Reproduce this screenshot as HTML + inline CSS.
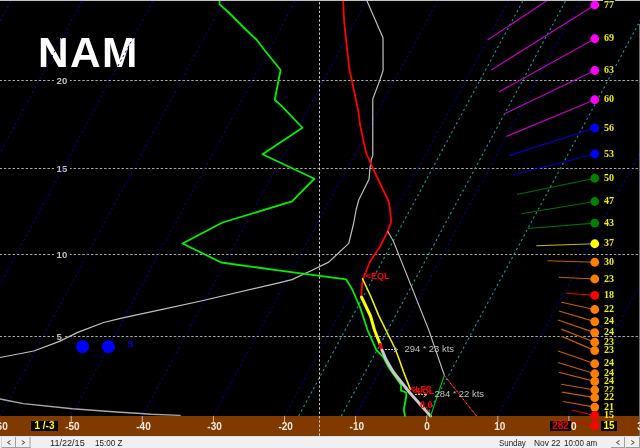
<!DOCTYPE html>
<html><head><meta charset="utf-8"><style>
html,body{margin:0;padding:0;background:#000;}
#root{position:relative;will-change:transform;width:640px;height:448px;overflow:hidden;background:#000;font-family:"Liberation Sans",sans-serif;}
svg{position:absolute;left:0;top:0;}
.t{position:absolute;white-space:nowrap;line-height:1;}
.wl{position:absolute;left:603px;padding:0 1px;background:#000;height:9px;line-height:10px;font:bold 10px/10px "Liberation Serif",serif;color:#f0f000;white-space:nowrap;}
.ax{position:absolute;top:421.5px;font:bold 10px/10px "Liberation Sans",sans-serif;color:#f4ece4;white-space:nowrap;}
.kts{font:9.5px/9.5px "Liberation Sans",sans-serif;color:#c0c0c0;}
.ast{font-size:8px;position:relative;top:-1px;}
.box{position:absolute;height:9.5px;background:#000;font:bold 10px/10px "Liberation Sans",sans-serif;text-align:center;white-space:nowrap;}
.sb{position:absolute;top:438.2px;font:9.5px/10px "Liberation Sans",sans-serif;color:#1a1a1a;white-space:pre;transform-origin:0 0;}
</style></head><body><div id="root">
<svg width="640" height="448" viewBox="0 0 640 448">
<rect x="0" y="0" width="640" height="416" fill="#000"/>
<rect x="0" y="416" width="640" height="20" fill="#803a00"/>
<line x1="0" y1="80.5" x2="640" y2="80.5" stroke="#a8a8a8" stroke-width="1" stroke-dasharray="2.5 1.857" stroke-dashoffset="0.5"/>
<line x1="0" y1="168.5" x2="640" y2="168.5" stroke="#a8a8a8" stroke-width="1" stroke-dasharray="2.5 1.857" stroke-dashoffset="0.5"/>
<line x1="0" y1="254.5" x2="640" y2="254.5" stroke="#a8a8a8" stroke-width="1" stroke-dasharray="2.5 1.857" stroke-dashoffset="0.5"/>
<line x1="0" y1="336.5" x2="640" y2="336.5" stroke="#a8a8a8" stroke-width="1" stroke-dasharray="2.5 1.857" stroke-dashoffset="0.5"/>
<rect x="54" y="75.5" width="16" height="10" fill="#000"/>
<text x="56.6" y="84.1" font-family="Liberation Sans" font-weight="bold" font-size="9.6" fill="#c0c0c0">20</text>
<rect x="54" y="163.5" width="16" height="10" fill="#000"/>
<text x="56.6" y="172.1" font-family="Liberation Sans" font-weight="bold" font-size="9.6" fill="#c0c0c0">15</text>
<rect x="54" y="249.5" width="16" height="10" fill="#000"/>
<text x="56.6" y="258.1" font-family="Liberation Sans" font-weight="bold" font-size="9.6" fill="#c0c0c0">10</text>
<rect x="54" y="331.5" width="9" height="10" fill="#000"/>
<text x="56.6" y="340.1" font-family="Liberation Sans" font-weight="bold" font-size="9.6" fill="#c0c0c0">5</text>
<text x="37.9" y="66.5" font-family="Liberation Sans" font-weight="bold" font-size="42.4" letter-spacing="1.4" fill="#fff">NAM</text>
<line x1="-213.20" y1="416" x2="11.44" y2="0" stroke="#0000b8" stroke-width="1" stroke-dasharray="2.2 2.9"/>
<line x1="-142.10" y1="416" x2="82.54" y2="0" stroke="#0000b8" stroke-width="1" stroke-dasharray="2.2 2.9"/>
<line x1="-71.00" y1="416" x2="153.64" y2="0" stroke="#0000b8" stroke-width="1" stroke-dasharray="2.2 2.9"/>
<line x1="0.10" y1="416" x2="224.74" y2="0" stroke="#0000b8" stroke-width="1" stroke-dasharray="2.2 2.9"/>
<line x1="71.20" y1="416" x2="295.84" y2="0" stroke="#0000b8" stroke-width="1" stroke-dasharray="2.2 2.9"/>
<line x1="142.30" y1="416" x2="366.94" y2="0" stroke="#0000b8" stroke-width="1" stroke-dasharray="2.2 2.9"/>
<line x1="213.40" y1="416" x2="438.04" y2="0" stroke="#0000b8" stroke-width="1" stroke-dasharray="2.2 2.9"/>
<line x1="284.50" y1="416" x2="509.14" y2="0" stroke="#0000b8" stroke-width="1" stroke-dasharray="2.2 2.9"/>
<line x1="355.60" y1="416" x2="580.24" y2="0" stroke="#0000b8" stroke-width="1" stroke-dasharray="2.2 2.9"/>
<line x1="497.80" y1="416" x2="722.44" y2="0" stroke="#0000b8" stroke-width="1" stroke-dasharray="2.2 2.9"/>
<line x1="568.90" y1="416" x2="793.54" y2="0" stroke="#0000b8" stroke-width="1" stroke-dasharray="2.2 2.9"/>
<line x1="298.72" y1="416" x2="523.36" y2="0" stroke="#00a8a8" stroke-width="1.1" stroke-dasharray="2.2 2.9"/>
<line x1="341.38" y1="416" x2="566.02" y2="0" stroke="#00a8a8" stroke-width="1.1" stroke-dasharray="2.2 2.9"/>
<line x1="426.70" y1="416" x2="651.34" y2="0" stroke="#00a8a8" stroke-width="1.1" stroke-dasharray="2.2 2.9"/>
<line x1="319.5" y1="1" x2="319.5" y2="436" stroke="#c8c8c8" stroke-width="1" stroke-dasharray="2.4 1.957" stroke-dashoffset="3.36"/>
<polyline points="366.6,0 373.75,16.4 383,37.75 383.1,70.4 380,79.75 372.75,99.1 372.75,155.75 371.25,159.5 370,168 369,179.25 358.75,199.9 356.25,209.25 353.5,224 348.75,243.4 328.75,262.1 310,271.25 291.9,279.6 280,282.6 200,301.25 160,309.8 121.7,318.1 103.6,322.5 77.7,332.4 59.5,341.4 33.7,351 0,357.5" fill="none" stroke="#c0c0c0" stroke-width="1.2" stroke-linejoin="round" stroke-linecap="round" />
<polyline points="0,399 23.3,403.6 72.5,408.7 120,412.3 137,413.3 151,414.2 180,415.4" fill="none" stroke="#a8a8a8" stroke-width="1.4" stroke-linejoin="round" stroke-linecap="round" />
<polyline points="219.6,0 219.6,4.4 228.75,12.5 246.25,30 256.9,40 264.4,50 280.6,70 274.75,99.75 281.25,105.6 302.5,127.75 262.5,154.2 314.4,178.75 292,201.4 222.5,222.5 182.5,243.5 221.25,262.5 280,270.6 346.25,279.4 352.5,290 356.9,300 360.6,308.75 367.5,330 376.4,350.2 383.4,357.2 388.75,367.5 399.4,382.5 401,385 401,390.6 406.25,392.5 406.25,396.25 403.75,410 405,416" fill="none" stroke="#00f000" stroke-width="1.8" stroke-linejoin="round" stroke-linecap="round" />
<polyline points="343.1,0 343.7,13.1 344.2,21.9 345.3,32.8 347,48.1 349.4,69.75 351.9,80.4 358.5,112 360,124.5 363.1,139.5 366.25,153.25 372.75,168 377.5,178 388.75,201.75 390,209.25 391.25,222 387.8,230.9 380,246.5 370,261.5 363.1,278.75 361.9,286.25 361.3,296.5" fill="none" stroke="#ff0000" stroke-width="1.8" stroke-linejoin="round" stroke-linecap="round" />
<polyline points="361.5,297 370.5,316 374.5,330 380.2,344.5" fill="none" stroke="#ffff00" stroke-width="3" stroke-linejoin="round" stroke-linecap="round" />
<polyline points="380.2,344.5 382,350.2" fill="none" stroke="#ff0000" stroke-width="3" stroke-linejoin="round" stroke-linecap="round" />
<polyline points="382,350.2 386.25,360 393.3,372 410,393 430.6,416" fill="none" stroke="#c8c8c8" stroke-width="3" stroke-linejoin="round" stroke-linecap="round" />
<polyline points="362.5,278.75 370.6,296 378.75,315.6 389.8,338 395.2,348.75 399.4,360 403.6,372 409.4,386.9 410.6,389.4" fill="none" stroke="#f0f000" stroke-width="1.6" stroke-linejoin="round" stroke-linecap="round" />
<polyline points="387.8,231.4 393.4,241.25 428.75,330 442.5,370 444.4,375" fill="none" stroke="#c0c0c0" stroke-width="1.1" stroke-linejoin="round" stroke-linecap="round" />
<polyline points="444.4,375 430.6,416" fill="none" stroke="#00c000" stroke-width="1.1" stroke-linejoin="round" stroke-linecap="round" />
<polyline points="444.4,375.5 476.5,416" fill="none" stroke="#e01010" stroke-width="1" stroke-linejoin="round" stroke-linecap="round" />
<line x1="444.4" y1="375.5" x2="476.5" y2="416" stroke="#d0d0d0" stroke-width="0.8" stroke-dasharray="1 4"/>
<circle cx="82.6" cy="346.7" r="6.5" fill="#0000ff"/>
<circle cx="108.4" cy="346.7" r="6.5" fill="#0000ff"/>
<line x1="385" y1="349.5" x2="397" y2="349.5" stroke="#c0c0c0" stroke-width="1" stroke-dasharray="2 1"/>
<polyline points="394,347 397.5,349.5 394,352" fill="none" stroke="#c0c0c0" stroke-width="1"/>
<line x1="415" y1="394.5" x2="426" y2="394.5" stroke="#c0c0c0" stroke-width="1" stroke-dasharray="2 1"/>
<polyline points="423.5,392 427,394.5 423.5,397" fill="none" stroke="#c0c0c0" stroke-width="1"/>
<line x1="426.5" y1="409" x2="429" y2="411.5" stroke="#ff0000" stroke-width="1.2"/>
<line x1="71.20" y1="416" x2="71.20" y2="422" stroke="#d8b090" stroke-width="1"/>
<line x1="142.30" y1="416" x2="142.30" y2="422" stroke="#d8b090" stroke-width="1"/>
<line x1="213.40" y1="416" x2="213.40" y2="422" stroke="#d8b090" stroke-width="1"/>
<line x1="284.50" y1="416" x2="284.50" y2="422" stroke="#d8b090" stroke-width="1"/>
<line x1="355.60" y1="416" x2="355.60" y2="422" stroke="#d8b090" stroke-width="1"/>
<line x1="426.70" y1="416" x2="426.70" y2="422" stroke="#d8b090" stroke-width="1"/>
<line x1="497.80" y1="416" x2="497.80" y2="422" stroke="#d8b090" stroke-width="1"/>
<line x1="568.90" y1="416" x2="568.90" y2="422" stroke="#d8b090" stroke-width="1"/>
<line x1="640.00" y1="416" x2="640.00" y2="422" stroke="#d8b090" stroke-width="1"/>
<line x1="594.75" y1="-31" x2="487.5" y2="40" stroke="#c000c0" stroke-width="1.2"/>
<line x1="594.75" y1="5" x2="491.25" y2="70" stroke="#c000c0" stroke-width="1.2"/>
<line x1="594.75" y1="38.75" x2="498.75" y2="92" stroke="#c000c0" stroke-width="1.2"/>
<line x1="594.75" y1="70.5" x2="505" y2="113.5" stroke="#c000c0" stroke-width="1.2"/>
<line x1="594.75" y1="99.75" x2="506.25" y2="136.5" stroke="#c000c0" stroke-width="1.2"/>
<line x1="594.75" y1="128" x2="509" y2="155.6" stroke="#0000c0" stroke-width="1.2"/>
<line x1="594.75" y1="154" x2="512.5" y2="175" stroke="#0000c0" stroke-width="1.2"/>
<line x1="594.75" y1="178.25" x2="517" y2="194.5" stroke="#007000" stroke-width="1.2"/>
<line x1="594.75" y1="201.5" x2="521.25" y2="213.75" stroke="#007000" stroke-width="1.2"/>
<line x1="594.75" y1="223.1" x2="527.5" y2="228.5" stroke="#007000" stroke-width="1.2"/>
<line x1="594.75" y1="243.75" x2="536.25" y2="245.75" stroke="#c0c000" stroke-width="1.2"/>
<line x1="594.75" y1="262.25" x2="547.5" y2="260.75" stroke="#c06000" stroke-width="1.2"/>
<line x1="594.75" y1="279" x2="558.75" y2="277.25" stroke="#c06000" stroke-width="1.2"/>
<line x1="594.75" y1="295.4" x2="566.25" y2="293.25" stroke="#e00000" stroke-width="1.2"/>
<line x1="594.75" y1="309.5" x2="561.25" y2="302.25" stroke="#c06000" stroke-width="1.2"/>
<line x1="594.75" y1="321.6" x2="559" y2="311" stroke="#c06000" stroke-width="1.2"/>
<line x1="594.75" y1="332.6" x2="558.1" y2="320" stroke="#c06000" stroke-width="1.2"/>
<line x1="594.75" y1="342.25" x2="561.25" y2="329.1" stroke="#c06000" stroke-width="1.2"/>
<line x1="594.75" y1="350.6" x2="561.9" y2="336.4" stroke="#c06000" stroke-width="1.2"/>
<line x1="594.75" y1="363.75" x2="558.1" y2="351" stroke="#c06000" stroke-width="1.2"/>
<line x1="594.75" y1="373.75" x2="558.1" y2="362.5" stroke="#c06000" stroke-width="1.2"/>
<line x1="594.75" y1="381.4" x2="558.75" y2="372.25" stroke="#c06000" stroke-width="1.2"/>
<line x1="594.75" y1="390" x2="561.25" y2="384.25" stroke="#c06000" stroke-width="1.2"/>
<line x1="594.75" y1="397.7" x2="561.9" y2="392.1" stroke="#c06000" stroke-width="1.2"/>
<line x1="594.75" y1="407.1" x2="563.1" y2="401.5" stroke="#c06000" stroke-width="1.2"/>
<line x1="594.75" y1="415.5" x2="572.25" y2="410.25" stroke="#e00000" stroke-width="1.2"/>
<line x1="594.75" y1="425.5" x2="571.9" y2="421.5" stroke="#e00000" stroke-width="1.2"/>
<circle cx="594.75" cy="-31" r="4.4" fill="#ff00ff"/>
<circle cx="594.75" cy="5" r="4.4" fill="#ff00ff"/>
<circle cx="594.75" cy="38.75" r="4.4" fill="#ff00ff"/>
<circle cx="594.75" cy="70.5" r="4.4" fill="#ff00ff"/>
<circle cx="594.75" cy="99.75" r="4.4" fill="#ff00ff"/>
<circle cx="594.75" cy="128" r="4.4" fill="#0000ff"/>
<circle cx="594.75" cy="154" r="4.4" fill="#0000ff"/>
<circle cx="594.75" cy="178.25" r="4.4" fill="#008000"/>
<circle cx="594.75" cy="201.5" r="4.4" fill="#008000"/>
<circle cx="594.75" cy="223.1" r="4.4" fill="#008000"/>
<circle cx="594.75" cy="243.75" r="4.4" fill="#ffff00"/>
<circle cx="594.75" cy="262.25" r="4.4" fill="#ff8000"/>
<circle cx="594.75" cy="279" r="4.4" fill="#ff8000"/>
<circle cx="594.75" cy="295.4" r="4.4" fill="#ff0000"/>
<circle cx="594.75" cy="309.5" r="4.4" fill="#ff8000"/>
<circle cx="594.75" cy="321.6" r="4.4" fill="#ff8000"/>
<circle cx="594.75" cy="332.6" r="4.4" fill="#ff8000"/>
<circle cx="594.75" cy="342.25" r="4.4" fill="#ff8000"/>
<circle cx="594.75" cy="350.6" r="4.4" fill="#ff8000"/>
<circle cx="594.75" cy="363.75" r="4.4" fill="#ff8000"/>
<circle cx="594.75" cy="373.75" r="4.4" fill="#ff8000"/>
<circle cx="594.75" cy="381.4" r="4.4" fill="#ff8000"/>
<circle cx="594.75" cy="390" r="4.4" fill="#ff8000"/>
<circle cx="594.75" cy="397.7" r="4.4" fill="#ff8000"/>
<circle cx="594.75" cy="407.1" r="4.4" fill="#ff8000"/>
<circle cx="594.75" cy="415.5" r="4.4" fill="#ff0000"/>
<circle cx="594.75" cy="425.5" r="4.4" fill="#ff0000"/>
<rect x="0" y="0" width="640" height="1" fill="#c0c0c0"/>
<rect x="639" y="24" width="1" height="412" fill="#707070"/>
<rect x="0" y="436" width="640" height="12" fill="#f0f0f0"/>
<rect x="0" y="436" width="640" height="1" fill="#e4e4e4"/>
<line x1="1.5" y1="437" x2="1.5" y2="448" stroke="#d4d4d4" stroke-width="1"/>
<line x1="15.5" y1="437" x2="15.5" y2="448" stroke="#a0a0a0" stroke-width="1"/>
<line x1="2" y1="447.5" x2="16" y2="447.5" stroke="#a0a0a0" stroke-width="1"/>
<polyline points="10.5,440.5 7.5,442.5 10.5,444.5" fill="none" stroke="#404040" stroke-width="1"/>
<line x1="30.0" y1="437" x2="30.0" y2="448" stroke="#a0a0a0" stroke-width="1"/>
<line x1="16" y1="447.5" x2="30.5" y2="447.5" stroke="#a0a0a0" stroke-width="1"/>
<polyline points="21.75,440.5 24.75,442.5 21.75,444.5" fill="none" stroke="#404040" stroke-width="1"/>
<line x1="624.5" y1="437" x2="624.5" y2="448" stroke="#a0a0a0" stroke-width="1"/>
<line x1="611" y1="447.5" x2="625" y2="447.5" stroke="#a0a0a0" stroke-width="1"/>
<polyline points="619.5,440.5 616.5,442.5 619.5,444.5" fill="none" stroke="#404040" stroke-width="1"/>
<line x1="639.5" y1="437" x2="639.5" y2="448" stroke="#a0a0a0" stroke-width="1"/>
<line x1="625.5" y1="447.5" x2="640.0" y2="447.5" stroke="#a0a0a0" stroke-width="1"/>
<polyline points="631.25,440.5 634.25,442.5 631.25,444.5" fill="none" stroke="#404040" stroke-width="1"/>
</svg>
<div class="ax" style="left:-32.30px;width:40px;text-align:right">-60</div><div class="ax" style="left:39.60px;width:40px;text-align:right">-50</div><div class="ax" style="left:110.70px;width:40px;text-align:right">-40</div><div class="ax" style="left:181.80px;width:40px;text-align:right">-30</div><div class="ax" style="left:252.90px;width:40px;text-align:right">-20</div><div class="ax" style="left:324.00px;width:40px;text-align:right">-10</div><div class="ax" style="left:407.00px;width:40px;text-align:center">0</div><div class="ax" style="left:465.40px;width:40px;text-align:right">10</div><div class="ax" style="left:536.50px;width:40px;text-align:right">20</div><div class="ax" style="left:608.40px;width:40px;text-align:right">30</div>
<div class="wl" style="top:-0.50px;">77</div><div class="wl" style="top:33.25px;">69</div><div class="wl" style="top:65.00px;">63</div><div class="wl" style="top:94.25px;">60</div><div class="wl" style="top:122.50px;">56</div><div class="wl" style="top:148.50px;">53</div><div class="wl" style="top:172.75px;">50</div><div class="wl" style="top:196.00px;">47</div><div class="wl" style="top:217.60px;">43</div><div class="wl" style="top:238.25px;">37</div><div class="wl" style="top:256.75px;">30</div><div class="wl" style="top:273.50px;">23</div><div class="wl" style="top:289.90px;">18</div><div class="wl" style="top:304.00px;">22</div><div class="wl" style="top:316.10px;">24</div><div class="wl" style="top:327.10px;">24</div><div class="wl" style="top:336.75px;">23</div><div class="wl" style="top:345.10px;">23</div><div class="wl" style="top:358.25px;">24</div><div class="wl" style="top:368.25px;">24</div><div class="wl" style="top:375.90px;">24</div><div class="wl" style="top:384.50px;">22</div><div class="wl" style="top:392.20px;">22</div><div class="wl" style="top:401.60px;">21</div><div class="wl" style="top:410.00px;background:linear-gradient(#000 0,#000 6.00px,transparent 6.00px);">15</div>
<div class="t" style="left:365.8px;top:272.2px;font:bold 9px/9px 'Liberation Sans',sans-serif;color:#ff0000;">&lt;EQL</div>
<div class="t" style="left:410.3px;top:384.5px;font:bold 8.5px/8.5px 'Liberation Sans',sans-serif;color:#ff0000;">&lt;LFC</div>
<div class="t" style="left:412.4px;top:386.6px;font:bold 8.5px/8.5px 'Liberation Sans',sans-serif;color:#ff0000;">&lt;LCL</div>
<div class="t" style="left:420px;top:400px;font:bold 10px/10px 'Liberation Serif',serif;color:#ff0000;">0.0</div>
<div class="t kts" style="left:404.5px;top:344px;">294 <span class="ast">*</span> 23 kts</div>
<div class="t kts" style="left:434.5px;top:388.5px;">284 <span class="ast">*</span> 22 kts</div>
<div class="t" style="left:127.5px;top:340px;font:bold 9px/9px 'Liberation Sans',sans-serif;color:#0000ff;">S</div>
<div class="box" style="left:31px;top:421px;width:27px;color:#ffff00;">1 /-3</div>
<div class="box" style="left:550px;top:421px;width:21px;color:#ff0000;">282</div>
<div class="box" style="left:601px;top:421px;width:16px;color:#ffff00;">15</div>
<div class="sb" style="left:50.45px;transform:scaleX(0.957)">11/22/15</div>
<div class="sb" style="left:95.05px;transform:scaleX(0.85)">15:00 Z</div>
<div class="sb" style="left:499.07px;transform:scaleX(0.83)">Sunday</div>
<div class="sb" style="left:533.72px;transform:scaleX(0.88)">Nov 22</div>
<div class="sb" style="left:563.96px;transform:scaleX(0.84)">10:00 am</div>
</div></body></html>
